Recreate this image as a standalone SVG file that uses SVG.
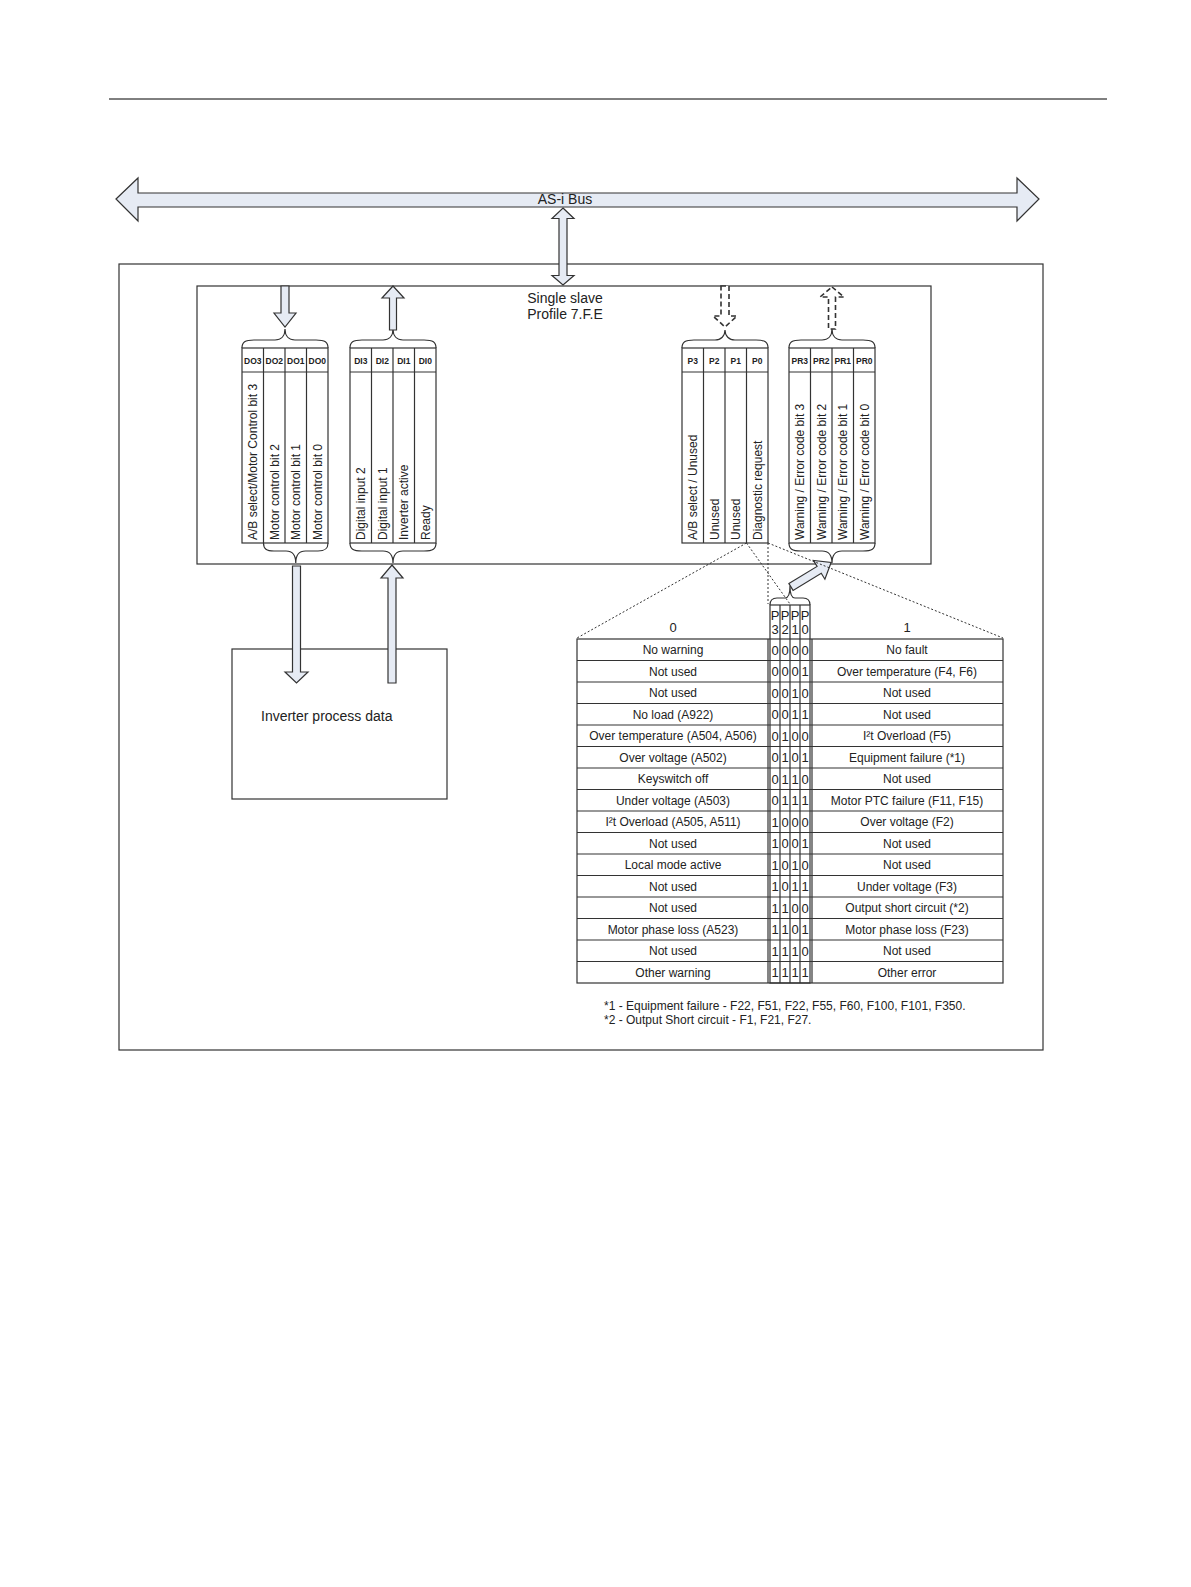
<svg xmlns="http://www.w3.org/2000/svg" width="1191" height="1587" viewBox="0 0 1191 1587">
<style>
.ln{stroke:#333;fill:none;stroke-width:1.2}
.bx{stroke:#333;fill:#fff;stroke-width:1.2}
.arr{fill:#e6ebf4;stroke:#333;stroke-width:1.2;stroke-linejoin:miter}
.darr{fill:#fff;stroke:#333;stroke-width:1.6;stroke-dasharray:5 3}
.dot{stroke:#333;fill:none;stroke-width:1;stroke-dasharray:2 2}
.t{font-family:"Liberation Sans",Arial,sans-serif;fill:#222}
.s12{font-size:12px}
.s13{font-size:13px}
.s14{font-size:14px}
.hd{font-size:8.5px;font-weight:bold;text-anchor:middle}
.mid{text-anchor:middle}
</style>
<rect width="1191" height="1587" fill="#fff"/>
<line x1="109" y1="99" x2="1107" y2="99" stroke="#000" stroke-width="1"/>

<g id="outer-box"><rect class="ln" x="119" y="264" width="924" height="786"/></g>

<g id="bus">
<polygon class="arr" points="116,199 138,178 138,193 1017,193 1017,178 1039,199 1017,221 1017,207 138,207 138,221"/>
<text class="t s14 mid" x="565" y="204">AS-i Bus</text>
</g>

<g id="slave-box">
<rect class="bx" x="197" y="286" width="734" height="278"/>
<text class="t s14 mid" x="565" y="302.5">Single slave</text>
<text class="t s14 mid" x="565" y="318.5">Profile 7.F.E</text>
</g>

<g id="do-group">
<path class="ln" d="M242,348 C242,342 245,340 254,340 L275,340 C281,340 285,336 285,329 C285,336 289,340 295,340 L316,340 C325,340 328,342 328,348"/>
<path class="ln" d="M263.5,543 C263.5,549 266.5,551 274,551 L286,551 C292,551 295.75,555 295.75,563 C295.75,555 299.5,551 305.5,551 L318,551 C325,551 328,549 328,543"/>
<rect class="ln" x="242" y="348" width="86" height="195"/>
<line class="ln" x1="242" y1="372" x2="328" y2="372"/>
<line class="ln" x1="263.5" y1="348" x2="263.5" y2="543"/>
<line class="ln" x1="285" y1="348" x2="285" y2="543"/>
<line class="ln" x1="306.5" y1="348" x2="306.5" y2="543"/>
<text class="t hd" x="252.75" y="363.5">DO3</text>
<text class="t hd" x="274.25" y="363.5">DO2</text>
<text class="t hd" x="295.75" y="363.5">DO1</text>
<text class="t hd" x="317.25" y="363.5">DO0</text>
<text class="t s12" x="257" y="540" transform="rotate(-90 257 540)">A/B select/Motor Control bit 3</text>
<text class="t s12" x="278.5" y="540" transform="rotate(-90 278.5 540)">Motor control bit 2</text>
<text class="t s12" x="300" y="540" transform="rotate(-90 300 540)">Motor control bit 1</text>
<text class="t s12" x="321.5" y="540" transform="rotate(-90 321.5 540)">Motor control bit 0</text>
</g>

<g id="di-group">
<path class="ln" d="M350,348 C350,342 353,340 362,340 L383,340 C389,340 393,336 393,329 C393,336 397,340 403,340 L424,340 C433,340 436,342 436,348"/>
<path class="ln" d="M350,543 C350,549 353,551 362,551 L383,551 C389,551 393,555 393,563 C393,555 397,551 403,551 L424,551 C433,551 436,549 436,543"/>
<rect class="ln" x="350" y="348" width="86" height="195"/>
<line class="ln" x1="350" y1="372" x2="436" y2="372"/>
<line class="ln" x1="371.5" y1="348" x2="371.5" y2="543"/>
<line class="ln" x1="393" y1="348" x2="393" y2="543"/>
<line class="ln" x1="414.5" y1="348" x2="414.5" y2="543"/>
<text class="t hd" x="360.75" y="363.5">DI3</text>
<text class="t hd" x="382.25" y="363.5">DI2</text>
<text class="t hd" x="403.75" y="363.5">DI1</text>
<text class="t hd" x="425.25" y="363.5">DI0</text>
<text class="t s12" x="365" y="540" transform="rotate(-90 365 540)">Digital input 2</text>
<text class="t s12" x="386.5" y="540" transform="rotate(-90 386.5 540)">Digital input 1</text>
<text class="t s12" x="408" y="540" transform="rotate(-90 408 540)">Inverter active</text>
<text class="t s12" x="429.5" y="540" transform="rotate(-90 429.5 540)">Ready</text>
</g>

<g id="p-group">
<path class="ln" d="M682,348 C682,342 685,340 694,340 L715,340 C721,340 725,336 725,330 C725,336 729,340 735,340 L756,340 C765,340 768,342 768,348"/>
<rect class="ln" x="682" y="348" width="86" height="195"/>
<line class="ln" x1="682" y1="372" x2="768" y2="372"/>
<line class="ln" x1="703.5" y1="348" x2="703.5" y2="543"/>
<line class="ln" x1="725" y1="348" x2="725" y2="543"/>
<line class="ln" x1="746.5" y1="348" x2="746.5" y2="543"/>
<text class="t hd" x="692.75" y="363.5">P3</text>
<text class="t hd" x="714.25" y="363.5">P2</text>
<text class="t hd" x="735.75" y="363.5">P1</text>
<text class="t hd" x="757.25" y="363.5">P0</text>
<text class="t s12" x="697" y="540" transform="rotate(-90 697 540)">A/B select / Unused</text>
<text class="t s12" x="718.5" y="540" transform="rotate(-90 718.5 540)">Unused</text>
<text class="t s12" x="740" y="540" transform="rotate(-90 740 540)">Unused</text>
<text class="t s12" x="761.5" y="540" transform="rotate(-90 761.5 540)">Diagnostic request</text>
</g>

<g id="pr-group">
<path class="ln" d="M789,348 C789,342 792,340 801,340 L822,340 C828,340 832,336 832,329 C832,336 836,340 842,340 L863,340 C872,340 875,342 875,348"/>
<path class="ln" d="M789,543 C789,549 792,551 801,551 L822,551 C828,551 832,555 832,563 C832,555 836,551 842,551 L863,551 C872,551 875,549 875,543"/>
<rect class="ln" x="789" y="348" width="86" height="195"/>
<line class="ln" x1="789" y1="372" x2="875" y2="372"/>
<line class="ln" x1="810.5" y1="348" x2="810.5" y2="543"/>
<line class="ln" x1="832" y1="348" x2="832" y2="543"/>
<line class="ln" x1="853.5" y1="348" x2="853.5" y2="543"/>
<text class="t hd" x="799.75" y="363.5">PR3</text>
<text class="t hd" x="821.25" y="363.5">PR2</text>
<text class="t hd" x="842.75" y="363.5">PR1</text>
<text class="t hd" x="864.25" y="363.5">PR0</text>
<text class="t s12" x="804" y="540" transform="rotate(-90 804 540)">Warning / Error code bit 3</text>
<text class="t s12" x="825.5" y="540" transform="rotate(-90 825.5 540)">Warning / Error code bit 2</text>
<text class="t s12" x="847" y="540" transform="rotate(-90 847 540)">Warning / Error code bit 1</text>
<text class="t s12" x="868.5" y="540" transform="rotate(-90 868.5 540)">Warning / Error code bit 0</text>
</g>

<g id="inverter">
<rect class="ln" x="232" y="649" width="215" height="150"/>
<text class="t s14" x="261" y="720.5">Inverter process data</text>
</g>

<g id="code-table">
<path class="ln" d="M770,605 C770,600 772,598 777,598 L785,598 C788,598 790,594 790,586 C790,594 792,598 795,598 L803,598 C808,598 810,600 810,605"/>
<rect class="ln" x="577" y="639" width="426" height="344"/>
<line class="ln" x1="768" y1="639" x2="768" y2="983"/>
<line class="ln" x1="812" y1="639" x2="812" y2="983"/>
<rect class="ln" x="770" y="605" width="40" height="378"/>
<line class="ln" x1="780" y1="605" x2="780" y2="983"/>
<line class="ln" x1="790" y1="605" x2="790" y2="983"/>
<line class="ln" x1="800" y1="605" x2="800" y2="983"/>
<g class="ln">
<line x1="577" y1="660.5" x2="1003" y2="660.5"/>
<line x1="577" y1="682" x2="1003" y2="682"/>
<line x1="577" y1="703.5" x2="1003" y2="703.5"/>
<line x1="577" y1="725" x2="1003" y2="725"/>
<line x1="577" y1="746.5" x2="1003" y2="746.5"/>
<line x1="577" y1="768" x2="1003" y2="768"/>
<line x1="577" y1="789.5" x2="1003" y2="789.5"/>
<line x1="577" y1="811" x2="1003" y2="811"/>
<line x1="577" y1="832.5" x2="1003" y2="832.5"/>
<line x1="577" y1="854" x2="1003" y2="854"/>
<line x1="577" y1="875.5" x2="1003" y2="875.5"/>
<line x1="577" y1="897" x2="1003" y2="897"/>
<line x1="577" y1="918.5" x2="1003" y2="918.5"/>
<line x1="577" y1="940" x2="1003" y2="940"/>
<line x1="577" y1="961.5" x2="1003" y2="961.5"/>
</g>
<g class="t s13 mid">
<text x="775" y="619.5">P</text><text x="785" y="619.5">P</text><text x="795" y="619.5">P</text><text x="805" y="619.5">P</text>
<text x="775" y="633.5">3</text><text x="785" y="633.5">2</text><text x="795" y="633.5">1</text><text x="805" y="633.5">0</text>
<text x="673" y="631.5">0</text><text x="907" y="631.5">1</text>
</g>
<g class="t s12 mid">
<text x="673" y="654">No warning</text><text x="907" y="654">No fault</text>
<text x="673" y="675.5">Not used</text><text x="907" y="675.5">Over temperature (F4, F6)</text>
<text x="673" y="697">Not used</text><text x="907" y="697">Not used</text>
<text x="673" y="718.5">No load (A922)</text><text x="907" y="718.5">Not used</text>
<text x="673" y="740">Over temperature (A504, A506)</text><text x="907" y="740">I²t Overload (F5)</text>
<text x="673" y="761.5">Over voltage (A502)</text><text x="907" y="761.5">Equipment failure (*1)</text>
<text x="673" y="783">Keyswitch off</text><text x="907" y="783">Not used</text>
<text x="673" y="804.5">Under voltage (A503)</text><text x="907" y="804.5">Motor PTC failure (F11, F15)</text>
<text x="673" y="826">I²t Overload (A505, A511)</text><text x="907" y="826">Over voltage (F2)</text>
<text x="673" y="847.5">Not used</text><text x="907" y="847.5">Not used</text>
<text x="673" y="869">Local mode active</text><text x="907" y="869">Not used</text>
<text x="673" y="890.5">Not used</text><text x="907" y="890.5">Under voltage (F3)</text>
<text x="673" y="912">Not used</text><text x="907" y="912">Output short circuit (*2)</text>
<text x="673" y="933.5">Motor phase loss (A523)</text><text x="907" y="933.5">Motor phase loss (F23)</text>
<text x="673" y="955">Not used</text><text x="907" y="955">Not used</text>
<text x="673" y="976.5">Other warning</text><text x="907" y="976.5">Other error</text>
</g>
<g class="t s13 mid">
<text y="654.5"><tspan x="775">0</tspan><tspan x="785">0</tspan><tspan x="795">0</tspan><tspan x="805">0</tspan></text>
<text y="676"><tspan x="775">0</tspan><tspan x="785">0</tspan><tspan x="795">0</tspan><tspan x="805">1</tspan></text>
<text y="697.5"><tspan x="775">0</tspan><tspan x="785">0</tspan><tspan x="795">1</tspan><tspan x="805">0</tspan></text>
<text y="719"><tspan x="775">0</tspan><tspan x="785">0</tspan><tspan x="795">1</tspan><tspan x="805">1</tspan></text>
<text y="740.5"><tspan x="775">0</tspan><tspan x="785">1</tspan><tspan x="795">0</tspan><tspan x="805">0</tspan></text>
<text y="762"><tspan x="775">0</tspan><tspan x="785">1</tspan><tspan x="795">0</tspan><tspan x="805">1</tspan></text>
<text y="783.5"><tspan x="775">0</tspan><tspan x="785">1</tspan><tspan x="795">1</tspan><tspan x="805">0</tspan></text>
<text y="805"><tspan x="775">0</tspan><tspan x="785">1</tspan><tspan x="795">1</tspan><tspan x="805">1</tspan></text>
<text y="826.5"><tspan x="775">1</tspan><tspan x="785">0</tspan><tspan x="795">0</tspan><tspan x="805">0</tspan></text>
<text y="848"><tspan x="775">1</tspan><tspan x="785">0</tspan><tspan x="795">0</tspan><tspan x="805">1</tspan></text>
<text y="869.5"><tspan x="775">1</tspan><tspan x="785">0</tspan><tspan x="795">1</tspan><tspan x="805">0</tspan></text>
<text y="891"><tspan x="775">1</tspan><tspan x="785">0</tspan><tspan x="795">1</tspan><tspan x="805">1</tspan></text>
<text y="912.5"><tspan x="775">1</tspan><tspan x="785">1</tspan><tspan x="795">0</tspan><tspan x="805">0</tspan></text>
<text y="934"><tspan x="775">1</tspan><tspan x="785">1</tspan><tspan x="795">0</tspan><tspan x="805">1</tspan></text>
<text y="955.5"><tspan x="775">1</tspan><tspan x="785">1</tspan><tspan x="795">1</tspan><tspan x="805">0</tspan></text>
<text y="977"><tspan x="775">1</tspan><tspan x="785">1</tspan><tspan x="795">1</tspan><tspan x="805">1</tspan></text>
</g>
</g>

<g id="footnotes" class="t s12">
<text x="604" y="1010">*1 - Equipment failure - F22, F51, F22, F55, F60, F100, F101, F350.</text>
<text x="604" y="1024">*2 - Output Short circuit - F1, F21, F27.</text>
</g>

<g id="connectors">
<polygon class="arr" points="563,208 574,218.5 567,218.5 567,275.5 574,275.5 563,285 552,275.5 559,275.5 559,218.5 552,218.5"/>
<polygon class="arr" points="281,286 289,286 289,313 296,313 285,327 274,313 281,313"/>
<polygon class="arr" points="393,286 404,298 396.5,298 396.5,330 389.5,330 389.5,298 382,298"/>
<polygon class="darr" points="721,286 729,286 729,316 737,316 725,327 713,316 721,316"/>
<polygon class="darr" points="832,287 844,297 835.5,297 835.5,329 828.5,329 828.5,297 820,297"/>
<polygon class="arr" points="292.5,566 300.5,566 300.5,672 308,672 296.5,683 285,672 292.5,672"/>
<polygon class="arr" points="392,565 403,578 396,578 396,683 388,683 388,578 381,578"/>
<polygon class="arr" transform="translate(791,587) rotate(-31.4)" points="0,-4 33,-4 33,-11 47,0 33,11 33,4 0,4"/>
<line class="dot" x1="746.5" y1="543" x2="577" y2="638"/>
<line class="dot" x1="746.5" y1="543" x2="790" y2="604"/>
<line class="dot" x1="768" y1="543" x2="768" y2="604"/>
<line class="dot" x1="768" y1="543" x2="1003" y2="638"/>
</g>
</svg>
